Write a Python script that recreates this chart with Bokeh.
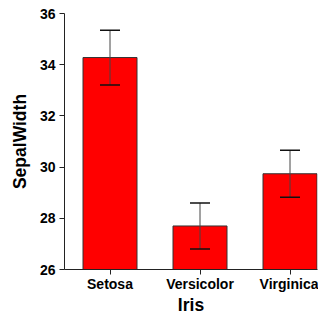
from bokeh.plotting import figure
from bokeh.models import ColumnDataSource, Whisker, TeeHead, FixedTicker, Range1d
from bokeh.embed import file_html
from bokeh.resources import INLINE

categories = ["Setosa", "Versicolor", "Virginica"]
means = [34.28, 27.70, 29.74]
errors = [1.07, 0.90, 0.92]
y_ticks = [26, 28, 30, 32, 34, 36]
x_title = "Iris"
y_title = "SepalWidth"

xs = [i + 1 for i in range(len(categories))]
source = ColumnDataSource(data=dict(
    x=xs,
    top=means,
    upper=[m + e for m, e in zip(means, errors)],
    lower=[m - e for m, e in zip(means, errors)],
))

FONT = "Liberation Sans"
W, H = 318, 317
LEFT, RIGHT, TOP, BOTTOM = 64, 1, 13, 40
PX_PER_CAT = 90.0
x_start = 0.5 - 0.5 / PX_PER_CAT
x_end = x_start + (W - LEFT - RIGHT) / PX_PER_CAT

p = figure(width=W, height=H, output_backend="svg", toolbar_location=None,
           x_range=Range1d(x_start, x_end), y_range=Range1d(y_ticks[0], y_ticks[-1]),
           min_border_left=LEFT, min_border_right=RIGHT, min_border_top=TOP,
           min_border_bottom=BOTTOM)
p.outline_line_color = None
p.grid.visible = False
p.background_fill_color = "white"
p.border_fill_color = "white"

p.vbar(x="x", top="top", bottom=y_ticks[0], width=0.6, source=source,
       fill_color="#FF0000", line_color="#333333", line_width=1)

w = Whisker(source=source, base="x", upper="upper", lower="lower",
            line_color="#444444", line_width=1, level="overlay",
            upper_head=TeeHead(size=20, line_color="#111111", line_width=1.5),
            lower_head=TeeHead(size=20, line_color="#111111", line_width=1.5))
p.add_layout(w)

p.xaxis.ticker = FixedTicker(ticks=xs)
p.xaxis.major_label_overrides = {x: c for x, c in zip(xs, categories)}
p.yaxis.ticker = FixedTicker(ticks=y_ticks)

for ax in (p.xaxis[0], p.yaxis[0]):
    ax.axis_line_color = "#222222"
    ax.major_tick_line_color = "#222222"
    ax.major_tick_out = 5
    ax.major_tick_in = 0
    ax.minor_tick_line_color = None
    ax.major_label_text_font = FONT
    ax.major_label_text_font_style = "bold"
    ax.major_label_text_font_size = "14px"
    ax.major_label_text_color = "black"
    ax.axis_label_text_font = FONT
    ax.axis_label_text_font_style = "bold"
    ax.axis_label_text_font_size = "17.5px"
    ax.axis_label_text_color = "black"

p.xaxis.axis_label = x_title
p.yaxis.axis_label = y_title
p.xaxis.major_label_standoff = 1
p.yaxis.major_label_standoff = 4
p.xaxis.axis_label_standoff = 0
p.yaxis.axis_label_standoff = 7

open("out.html", "w").write(file_html(p, INLINE))
